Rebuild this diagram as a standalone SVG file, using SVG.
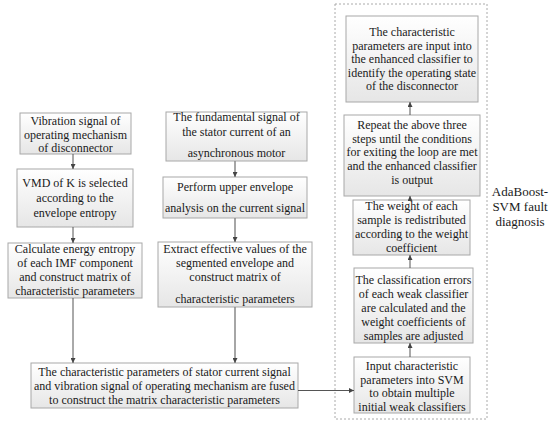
<svg xmlns="http://www.w3.org/2000/svg" width="550" height="422" viewBox="0 0 550 422">
<style>
.box{fill:url(#g);stroke:#a8a8a8;stroke-width:1}
.t{font-family:"Liberation Serif","Times New Roman",serif;font-size:12px;fill:#1a1a1a;text-anchor:middle}
.c{stroke:#555;stroke-width:1;fill:none;marker-end:url(#a)}
.cm{stroke:#888;stroke-width:1.5;fill:none;marker-end:url(#a)}
</style>
<defs>
<linearGradient id="g" x1="0" y1="0" x2="0" y2="1">
<stop offset="0" stop-color="#ffffff"/>
<stop offset="1" stop-color="#e6e6e6"/>
</linearGradient>
<marker id="a" viewBox="0 0 8 8" refX="8" refY="4" markerWidth="5" markerHeight="5" markerUnits="userSpaceOnUse" orient="auto">
<path d="M0,0 L8,4 L0,8 z" fill="#444"/>
</marker>
</defs>
<rect width="550" height="422" fill="#fff"/>
<rect x="335" y="4" width="152" height="415" fill="none" stroke="#aaa" stroke-width="1" stroke-dasharray="2,2"/>
<g id="L1"><rect class="box" x="20" y="113" width="111" height="41"/>
<text class="t" x="75.5" y="124.5">Vibration signal of</text><text class="t" x="75.5" y="138.5">operating mechanism</text><text class="t" x="75.5" y="152">of disconnector</text></g>
<g id="L2"><rect class="box" x="17" y="169" width="116" height="58"/>
<text class="t" x="75" y="187">VMD of K is selected</text><text class="t" x="75" y="202">according to the</text><text class="t" x="75" y="217">envelope entropy</text></g>
<g id="L3"><rect class="box" x="8" y="243" width="134" height="55"/>
<text class="t" x="75" y="253">Calculate energy entropy</text><text class="t" x="75" y="267">of each IMF component</text><text class="t" x="75" y="281">and construct matrix of</text><text class="t" x="75" y="294.5">characteristic parameters</text></g>
<g id="M1"><rect class="box" x="166" y="112" width="141" height="49"/>
<text class="t" x="236.5" y="121">The fundamental signal of</text><text class="t" x="236.5" y="136">the stator current of an</text><text class="t" x="236.5" y="157">asynchronous motor</text></g>
<g id="M2"><rect class="box" x="163" y="177" width="144" height="41"/>
<text class="t" x="235" y="191">Perform upper envelope</text><text class="t" x="235" y="212">analysis on the current signal</text></g>
<g id="M3"><rect class="box" x="158" y="242" width="154" height="65"/>
<text class="t" x="235" y="253">Extract effective values of the</text><text class="t" x="235" y="267">segmented envelope and</text><text class="t" x="235" y="281">construct matrix of</text><text class="t" x="235" y="303">characteristic parameters</text></g>
<g id="B"><rect class="box" x="31" y="363" width="267" height="45"/>
<text class="t" x="164.5" y="376">The characteristic parameters of stator current signal</text><text class="t" x="164.5" y="390">and vibration signal of operating mechanism are fused</text><text class="t" x="164.5" y="403.5">to construct the matrix characteristic parameters</text></g>
<g id="R1"><rect class="box" x="346" y="16" width="132" height="86"/>
<text class="t" x="412" y="36">The characteristic</text><text class="t" x="412" y="49.5">parameters are input into</text><text class="t" x="412" y="63">the enhanced classifier to</text><text class="t" x="412" y="76.5">identify the operating state</text><text class="t" x="412" y="90">of the disconnector</text></g>
<g id="R2"><rect class="box" x="344" y="115" width="136" height="81"/>
<text class="t" x="412" y="129">Repeat the above three</text><text class="t" x="412" y="142.5">steps until the conditions</text><text class="t" x="412" y="156">for exiting the loop are met</text><text class="t" x="412" y="170">and the enhanced classifier</text><text class="t" x="412" y="183.5">is output</text></g>
<g id="R3"><rect class="box" x="353" y="200" width="117" height="55"/>
<text class="t" x="411.5" y="210">The weight of each</text><text class="t" x="411.5" y="224">sample is redistributed</text><text class="t" x="411.5" y="237.5">according to the weight</text><text class="t" x="411.5" y="251.5">coefficient</text></g>
<g id="R4"><rect class="box" x="354" y="268" width="119" height="75"/>
<text class="t" x="413.5" y="284">The classification errors</text><text class="t" x="413.5" y="298">of each weak classifier</text><text class="t" x="413.5" y="312">are calculated and the</text><text class="t" x="413.5" y="326">weight coefficients of</text><text class="t" x="413.5" y="340">samples are adjusted</text></g>
<g id="R5"><rect class="box" x="354" y="357" width="116" height="56"/>
<text class="t" x="412" y="370">Input characteristic</text><text class="t" x="412" y="383.5">parameters into SVM</text><text class="t" x="412" y="397">to obtain multiple</text><text class="t" x="412" y="411">initial weak classifiers</text></g>
<g id="label"><text class="t" x="520" y="196" style="font-size:13px">AdaBoost-</text><text class="t" x="520" y="211" style="font-size:13px">SVM fault</text><text class="t" x="520" y="226" style="font-size:13px">diagnosis</text></g>
<g id="connectors">
<line class="c" x1="73" y1="154" x2="73" y2="169"/>
<line class="c" x1="73" y1="227" x2="73" y2="243"/>
<line class="c" x1="73" y1="298" x2="73" y2="363"/>
<line class="cm" x1="235" y1="161" x2="235" y2="177"/>
<line class="cm" x1="235" y1="218" x2="235" y2="242"/>
<line class="cm" x1="235" y1="307" x2="235" y2="363"/>
<line class="c" x1="298" y1="390.5" x2="354" y2="390.5"/>
<line class="c" x1="410" y1="357" x2="410" y2="343"/>
<line class="c" x1="410" y1="268" x2="410" y2="255"/>
<line class="c" x1="410" y1="200" x2="410" y2="196"/>
<line class="c" x1="410" y1="115" x2="410" y2="102"/>
</g>
</svg>
